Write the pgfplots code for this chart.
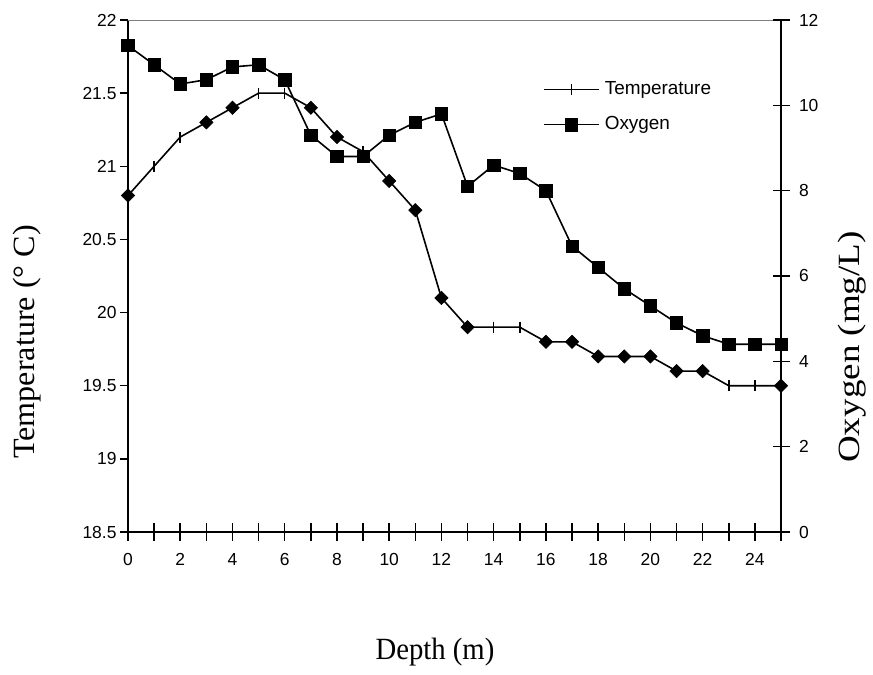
\documentclass[border=0pt]{standalone}
\usepackage{pgfplots}
\pgfplotsset{compat=1.18}
\usepackage{fontspec}
\setmainfont{Liberation Serif}
\newfontfamily\arial{Liberation Sans}
\begin{document}
\begin{tikzpicture}[x=1bp,y=1bp]
\path[use as bounding box] (-128,-143) rectangle (745,532);
\pgfplotsset{
  common/.style={
    scale only axis, width=653bp, height=512bp,
    xmin=0, xmax=25,
    /pgf/number format/assume math mode=true,
    tick label style={font=\arial\fontsize{17.5}{20}\selectfont, black},
    axis line style={line width=1.5bp, black},
    tick style={line width=1.5bp, black},
    clip=false,
  }
}
% left axis: temperature
\begin{axis}[common,
  axis y line*=left, axis x line=none,
  ymin=18.5, ymax=22,
  ytick={18.5,19,19.5,20,20.5,21,21.5,22},
  yticklabels={18.5,19,19.5,20,20.5,21,21.5,22},
  ytick align=outside, major tick length=8bp,
]
\addplot[black, line width=1.6bp, mark=|, mark size=5.5bp, mark options={line width=1.5bp, solid}]
coordinates {
(0,20.8)(1,21.0)(2,21.2)(3,21.3)(4,21.4)(5,21.5)(6,21.5)(7,21.4)(8,21.2)(9,21.1)
(10,20.9)(11,20.7)(12,20.1)(13,19.9)(14,19.9)(15,19.9)(16,19.8)(17,19.8)(18,19.7)
(19,19.7)(20,19.7)(21,19.6)(22,19.6)(23,19.5)(24,19.5)(25,19.5)
};
\addplot[only marks, forget plot, mark=square*, mark size=4.7bp, mark options={rotate=45, line width=0.6bp, black, fill=black}]
coordinates {
(0,20.8)(3,21.3)(4,21.4)(7,21.4)(8,21.2)(10,20.9)(11,20.7)(12,20.1)(13,19.9)
(16,19.8)(17,19.8)(18,19.7)(19,19.7)(20,19.7)(21,19.6)(22,19.6)(25,19.5)
};
\draw[gray, line width=0.8bp] (rel axis cs:0,1) -- (rel axis cs:1,1);
\end{axis}
% right axis: oxygen, bottom x axis
\begin{axis}[common,
  axis y line*=right, axis x line*=bottom,
  ymin=0, ymax=12, ytick={0,2,...,12},
  xtick={0,2,...,24}, minor xtick={1,3,...,25},
  tick align=center, major tick length=17bp, minor tick length=17bp,
  minor tick style={line width=1.5bp, black},
  xticklabel style={yshift=-9bp},
  yticklabel style={xshift=6bp},
  legend style={draw=none, fill=none, at={(0.6355,0.881)}, anchor=north west,
    font=\arial\fontsize{19}{22}\selectfont,
    nodes={inner sep=0pt, text height=13bp, text depth=4bp},
    row sep=18bp, inner sep=0pt},
  legend cell align=left,
  /tikz/every odd column/.append style={column sep=5bp},
  legend image code/.code={\draw[mark repeat=2, mark phase=2, #1] plot coordinates {(0bp,0bp)(27.5bp,0bp)(55bp,0bp)};},
]
\addlegendimage{black, line width=1.6bp, mark=|, mark size=5.5bp, mark options={line width=1.5bp, solid}}
\addlegendentry{Temperature}
\addplot[black, line width=1.6bp, mark=square*, mark size=6.2bp, mark options={line width=0.6bp, solid, fill=black}]
coordinates {
(0,11.4)(1,10.95)(2,10.5)(3,10.6)(4,10.9)(5,10.95)(6,10.6)(7,9.3)(8,8.8)(9,8.8)
(10,9.3)(11,9.6)(12,9.8)(13,8.1)(14,8.6)(15,8.4)(16,8.0)(17,6.7)(18,6.2)(19,5.7)
(20,5.3)(21,4.9)(22,4.6)(23,4.4)(24,4.4)(25,4.4)
};
\addlegendentry{Oxygen}
\end{axis}
\node[rotate=90, font=\fontsize{31}{36}\selectfont] at (-101,190) {\scalebox{1.04}[1]{Temperature (° C)}};
\node[rotate=90, font=\fontsize{31}{36}\selectfont] at (724,185) {\scalebox{1.2}[1]{Oxygen (mg/L)}};
\node[font=\fontsize{31}{36}\selectfont] at (307,-120) {\scalebox{0.93}[1]{Depth (m)}};
\end{tikzpicture}
\end{document}
